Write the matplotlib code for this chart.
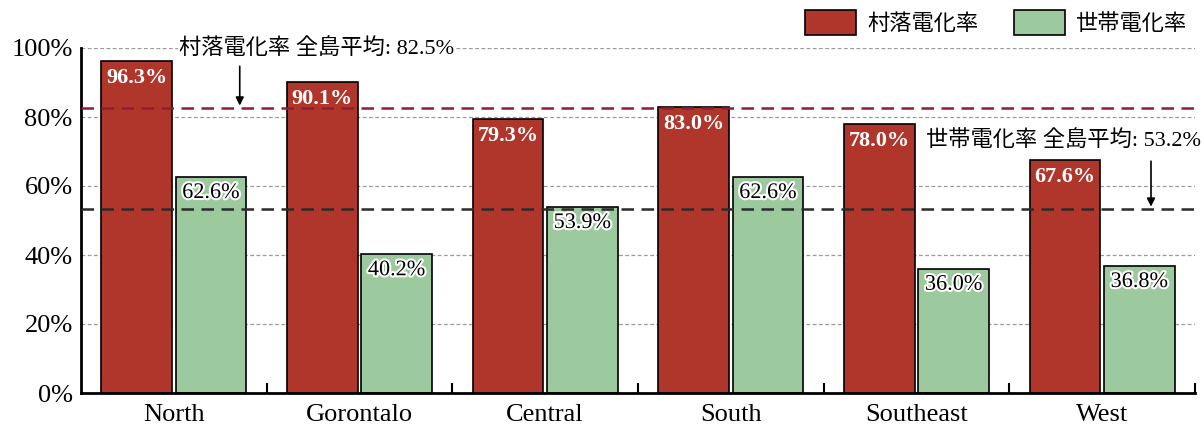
import matplotlib
matplotlib.use("Agg")
import matplotlib.pyplot as plt
import matplotlib.patheffects as pe
import numpy as np

plt.rcParams['font.family'] = ['Liberation Serif', 'Noto Sans CJK JP']

regions = ["North", "Gorontalo", "Central", "South", "Southeast", "West"]
village_rate = [96.3, 90.1, 79.3, 83.0, 78.0, 67.6]
household_rate = [62.6, 40.2, 53.9, 62.6, 36.0, 36.8]
village_avg = 82.5
household_avg = 53.2
yticks = [0, 20, 40, 60, 80, 100]

red = "#B0352B"
green = "#9DC99E"

fig = plt.figure(figsize=(12.04, 4.30), dpi=100)
ax = fig.add_axes([81 / 1204, 1 - 393 / 430, (1195 - 81) / 1204, (393 - 48) / 430])

x = np.arange(len(regions))
w = 0.38
off = 0.2

ax.set_axisbelow(True)
ax.yaxis.grid(True, linestyle=(0, (3, 2)), color="#9a9a9a", linewidth=0.9)

b1 = ax.bar(x - off, village_rate, w, color=red, edgecolor="black", linewidth=1.2,
            label="村落電化率", zorder=2)
b2 = ax.bar(x + off, household_rate, w, color=green, edgecolor="black", linewidth=1.2,
            label="世帯電化率", zorder=2)

for xi, v in zip(x - off, village_rate):
    ax.annotate(f"{v:.1f}%", (xi, v), xytext=(0, -5), textcoords="offset points",
                ha="center", va="top", color="white", fontweight="bold", fontsize=16,
                zorder=5)
for xi, v in zip(x + off, household_rate):
    ax.annotate(f"{v:.1f}%", (xi, v), xytext=(0, -5), textcoords="offset points",
                ha="center", va="top", color="black", fontsize=16, zorder=5,
                path_effects=[pe.withStroke(linewidth=3, foreground="white")])

ax.axhline(village_avg, color="#8E1F33", linestyle=(0, (5, 3)), linewidth=1.8, zorder=4)
ax.axhline(household_avg, color="#2b2b2b", linestyle=(0, (5, 3)), linewidth=1.8, zorder=4)

ax.text(0.77, 100, f"村落電化率 全島平均: {village_avg}%", ha="center", va="center",
        fontsize=16, zorder=6, bbox=dict(facecolor="white", edgecolor="none", pad=1))
ax.annotate("", xy=(0.355, village_avg), xytext=(0.355, 95.5),
            arrowprops=dict(arrowstyle="-|>", color="black", lw=1.2, mutation_scale=12),
            zorder=6)

ax.text(4.79, 73, f"世帯電化率 全島平均: {household_avg}%", ha="center", va="center",
        fontsize=16, zorder=6, clip_on=False)
ax.annotate("", xy=(5.263, household_avg), xytext=(5.263, 68),
            arrowprops=dict(arrowstyle="-|>", color="black", lw=1.2, mutation_scale=12),
            zorder=6, annotation_clip=False)

ax.set_xlim(-0.5, len(regions) - 0.5)
ax.set_ylim(0, 100)
ax.set_yticks(yticks)
ax.set_yticklabels([f"{t}%" for t in yticks], fontsize=19)
ax.set_xticks(x)
ax.set_xticklabels(regions, fontsize=19)
ax.set_xticks(np.arange(len(regions)) + 0.5, minor=True)
ax.tick_params(axis="x", which="major", length=0, pad=8)
ax.tick_params(axis="x", which="minor", direction="in", length=7, width=1.5)
ax.tick_params(axis="y", length=0, pad=6)

for s in ("top", "right"):
    ax.spines[s].set_visible(False)
for s in ("left", "bottom"):
    ax.spines[s].set_linewidth(2)

fig.legend(handles=[b1, b2], loc="upper right", bbox_to_anchor=(1192 / 1204, 1 - 6 / 430),
           ncol=2, frameon=False, fontsize=16, handlelength=2.3, handleheight=1.3,
           handletextpad=0.5, columnspacing=1.6, borderaxespad=0, borderpad=0.2)

fig.savefig("out.png", dpi=100)
